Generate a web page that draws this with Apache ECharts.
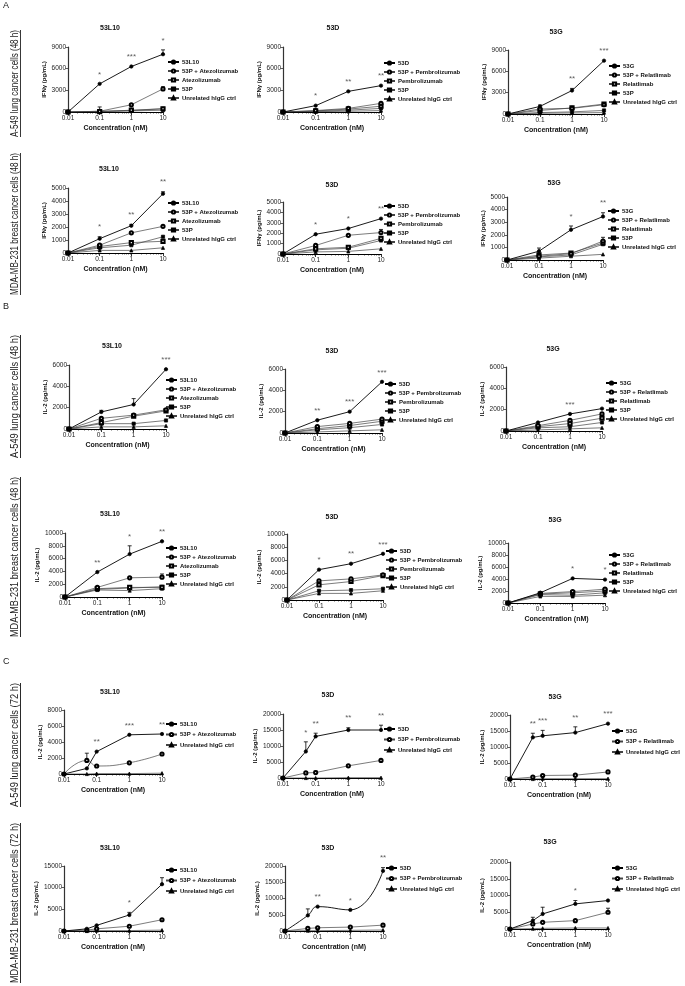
<!DOCTYPE html>
<html><head><meta charset="utf-8">
<script src="https://cdn.jsdelivr.net/npm/echarts@6/dist/echarts.min.js"></script>
<style>html,body{margin:0;padding:0;background:#fff}#c{width:685px;height:986px}</style>
</head><body><div id="c"></div>
<script>
// ---------- categories / names ----------
const conc = [0.01, 0.1, 1, 10];
const concC = [0.01, 0.05, 0.1, 1, 10];
const namesL10 = ['53L10', '53P + Atezolizumab', 'Atezolizumab', '53P', 'Unrelated hIgG ctrl'];
const namesD = ['53D', '53P + Pembrolizumab', 'Pembrolizumab', '53P', 'Unrelated hIgG ctrl'];
const namesG = ['53G', '53P + Relatlimab', 'Relatlimab', '53P', 'Unrelated hIgG ctrl'];
const namesL10c = ['53L10', '53P + Atezolizumab', 'Unrelated hIgG ctrl'];
const namesDc = ['53D', '53P + Pembrolizumab', 'Unrelated hIgG ctrl'];
const namesGc = ['53G', '53P + Relatlimab', 'Unrelated hIgG ctrl'];
const yNameIFN = 'IFN\u03b3 (pg/mL)';
const yNameIL2 = 'IL-2 (pg/mL)';
const xName = 'Concentration (nM)';
const sideA549_48 = 'A-549 lung cancer cells (48 h)';
const sideMDA_48 = 'MDA-MB-231 breast cancer cells (48 h)';
const sideA549_72 = 'A-549 lung cancer cells (72 h)';
const sideMDA_72 = 'MDA-MB-231 breast cancer cells (72 h)';

// ---------- A: IFN-gamma, A-549, 48 h ----------
const a1L10_main = [0, 3900, 6300, 8000];
const a1L10_combo = [0, 100, 1000, 3200];
const a1L10_mab = [0, 50, 250, 450];
const a1L10_53p = [0, 100, 200, 450];
const a1L10_ctrl = [0, 50, 150, 250];
const a1L10_mainErr = [0, 0, 0, 600];
const a1L10_comboErr = [0, 600, 0, 300];
const a1L10_sig = ['', '*', '***', '*'];

const a1D_main = [0, 880, 2860, 3650];
const a1D_combo = [0, 200, 500, 1200];
const a1D_mab = [0, 150, 400, 800];
const a1D_53p = [0, 100, 250, 500];
const a1D_ctrl = [0, 50, 100, 200];
const a1D_mainErr = [0, 0, 0, 0];
const a1D_comboErr = [0, 0, 0, 0];
const a1D_sig = ['', '*', '**', '**'];

const a1G_main = [0, 1070, 3300, 7500];
const a1G_combo = [0, 700, 800, 1300];
const a1G_mab = [0, 500, 850, 1400];
const a1G_53p = [0, 200, 300, 500];
const a1G_ctrl = [0, 100, 150, 200];
const a1G_mainErr = [0, 200, 300, 0];
const a1G_comboErr = [0, 0, 0, 0];
const a1G_sig = ['', '', '**', '***'];

// ---------- A: IFN-gamma, MDA-MB-231, 48 h ----------
const a2L10_main = [0, 1100, 2100, 4560];
const a2L10_combo = [0, 600, 1550, 2050];
const a2L10_mab = [0, 500, 800, 900];
const a2L10_53p = [0, 400, 600, 1250];
const a2L10_ctrl = [0, 200, 200, 400];
const a2L10_mainErr = [0, 150, 100, 150];
const a2L10_comboErr = [0, 0, 0, 0];
const a2L10_sig = ['', '*', '**', '**'];

const a2D_main = [0, 1900, 2450, 3400];
const a2D_combo = [0, 820, 1800, 2060];
const a2D_mab = [0, 500, 650, 1500];
const a2D_53p = [0, 400, 550, 1300];
const a2D_ctrl = [0, 200, 250, 500];
const a2D_mainErr = [0, 0, 0, 0];
const a2D_comboErr = [0, 0, 0, 300];
const a2D_sig = ['', '*', '*', '**'];

const a2G_main = [0, 700, 2400, 3450];
const a2G_combo = [0, 300, 500, 1500];
const a2G_mab = [0, 400, 550, 1350];
const a2G_53p = [0, 250, 400, 1250];
const a2G_ctrl = [0, 150, 300, 450];
const a2G_mainErr = [0, 250, 300, 300];
const a2G_comboErr = [0, 0, 0, 300];
const a2G_sig = ['', '', '*', '**'];

// ---------- B: IL-2, A-549, 48 h ----------
const b1L10_main = [0, 1600, 2300, 5600];
const b1L10_combo = [0, 1000, 1300, 1800];
const b1L10_mab = [0, 600, 1200, 1700];
const b1L10_53p = [0, 500, 500, 800];
const b1L10_ctrl = [0, 200, 200, 300];
const b1L10_mainErr = [0, 150, 550, 0];
const b1L10_comboErr = [0, 0, 0, 0];
const b1L10_sig = ['', '', '', '***'];

const b1D_main = [0, 1200, 2000, 4800];
const b1D_combo = [0, 600, 900, 1300];
const b1D_mab = [0, 400, 700, 1100];
const b1D_53p = [0, 300, 500, 800];
const b1D_ctrl = [0, 100, 200, 300];
const b1D_mainErr = [0, 0, 0, 0];
const b1D_comboErr = [0, 0, 0, 0];
const b1D_sig = ['', '**', '***', '***'];

const b1G_main = [0, 800, 1600, 2100];
const b1G_combo = [0, 500, 1000, 1600];
const b1G_mab = [0, 400, 700, 1200];
const b1G_53p = [0, 300, 400, 800];
const b1G_ctrl = [0, 100, 200, 300];
const b1G_mainErr = [0, 0, 0, 0];
const b1G_comboErr = [0, 0, 0, 0];
const b1G_sig = ['', '', '***', ''];

// ---------- B: IL-2, MDA-MB-231, 48 h ----------
const b2L10_main = [0, 3900, 6700, 8700];
const b2L10_combo = [0, 1500, 3000, 3100];
const b2L10_mab = [0, 1300, 1500, 1500];
const b2L10_53p = [0, 1200, 1400, 1600];
const b2L10_ctrl = [0, 1100, 1000, 1300];
const b2L10_mainErr = [0, 0, 1300, 0];
const b2L10_comboErr = [0, 0, 0, 500];
const b2L10_sig = ['', '**', '*', '**'];

const b2D_main = [0, 4600, 5500, 7000];
const b2D_combo = [0, 2900, 3200, 3800];
const b2D_mab = [0, 2300, 2800, 3700];
const b2D_53p = [0, 1400, 1500, 1700];
const b2D_ctrl = [0, 1000, 1000, 1400];
const b2D_mainErr = [0, 0, 0, 0];
const b2D_comboErr = [0, 0, 0, 0];
const b2D_sig = ['', '*', '**', '***'];

const b2G_main = [0, 1700, 4100, 3900];
const b2G_combo = [0, 1600, 1900, 2300];
const b2G_mab = [0, 1500, 1700, 2000];
const b2G_53p = [0, 1400, 1300, 1700];
const b2G_ctrl = [0, 1100, 1100, 1300];
const b2G_mainErr = [0, 0, 0, 0];
const b2G_comboErr = [0, 0, 0, 0];
const b2G_sig = ['', '', '*', '*'];

// ---------- C: IL-2, A-549, 72 h ----------
const c1L10_main = [0, 700, 2800, 4900, 5000];
const c1L10_combo = [0, 1700, 1000, 1400, 2500];
const c1L10_ctrl = [0, 0, 50, 50, 100];
const c1L10_mainErr = [0, 0, 0, 0, 0];
const c1L10_comboErr = [0, 900, 0, 0, 0];
const c1L10_sig = ['', '', '**', '***', '**'];

const c1D_main = [0, 8300, 13000, 15000, 15000];
const c1D_combo = [0, 1600, 1700, 3800, 5500];
const c1D_ctrl = [0, 0, 0, 100, 100];
const c1D_mainErr = [0, 3000, 1000, 700, 1500];
const c1D_comboErr = [0, 0, 500, 0, 0];
const c1D_sig = ['', '*', '**', '**', '**'];

const c1G_main = [0, 13000, 13500, 14500, 17300];
const c1G_combo = [0, 600, 1100, 1200, 2200];
const c1G_ctrl = [0, 0, 100, 100, 100];
const c1G_mainErr = [0, 1300, 1700, 1800, 0];
const c1G_comboErr = [0, 0, 0, 0, 0];
const c1G_sig = ['', '**', '***', '**', '***'];

// ---------- C: IL-2, MDA-MB-231, 72 h ----------
const c2L10_main = [0, 500, 1300, 3700, 10800];
const c2L10_combo = [0, 200, 500, 1100, 2600];
const c2L10_ctrl = [0, 0, 100, 100, 200];
const c2L10_mainErr = [0, 0, 0, 600, 1500];
const c2L10_comboErr = [0, 0, 0, 0, 0];
const c2L10_sig = ['', '', '', '*', ''];

const c2D_main = [0, 4800, 7500, 6500, 18500];
const c2D_combo = [0, 800, 1000, 1200, 1800];
const c2D_ctrl = [0, 100, 100, 200, 300];
const c2D_mainErr = [0, 2000, 0, 0, 1000];
const c2D_comboErr = [0, 0, 0, 0, 0];
const c2D_sig = ['', '', '**', '*', '**'];

const c2G_main = [0, 2500, 4500, 7500, 8500];
const c2G_combo = [0, 1500, 2000, 2500, 5000];
const c2G_ctrl = [0, 100, 200, 300, 300];
const c2G_mainErr = [0, 1000, 2000, 1000, 0];
const c2G_comboErr = [0, 0, 0, 0, 1200];
const c2G_sig = ['', '', '', '*', ''];

// ---------- panel definitions (data references) ----------
const panels = [
  {title:'53L10', names:namesL10, x:conc, ys:[a1L10_main,a1L10_combo,a1L10_mab,a1L10_53p,a1L10_ctrl], errs:[a1L10_mainErr,a1L10_comboErr], sig:a1L10_sig, ymax:9000, yint:3000, yname:yNameIFN},
  {title:'53D', names:namesD, x:conc, ys:[a1D_main,a1D_combo,a1D_mab,a1D_53p,a1D_ctrl], errs:[a1D_mainErr,a1D_comboErr], sig:a1D_sig, ymax:9000, yint:3000, yname:yNameIFN},
  {title:'53G', names:namesG, x:conc, ys:[a1G_main,a1G_combo,a1G_mab,a1G_53p,a1G_ctrl], errs:[a1G_mainErr,a1G_comboErr], sig:a1G_sig, ymax:9000, yint:3000, yname:yNameIFN},
  {title:'53L10', names:namesL10, x:conc, ys:[a2L10_main,a2L10_combo,a2L10_mab,a2L10_53p,a2L10_ctrl], errs:[a2L10_mainErr,a2L10_comboErr], sig:a2L10_sig, ymax:5000, yint:1000, yname:yNameIFN},
  {title:'53D', names:namesD, x:conc, ys:[a2D_main,a2D_combo,a2D_mab,a2D_53p,a2D_ctrl], errs:[a2D_mainErr,a2D_comboErr], sig:a2D_sig, ymax:5000, yint:1000, yname:yNameIFN},
  {title:'53G', names:namesG, x:conc, ys:[a2G_main,a2G_combo,a2G_mab,a2G_53p,a2G_ctrl], errs:[a2G_mainErr,a2G_comboErr], sig:a2G_sig, ymax:5000, yint:1000, yname:yNameIFN},
  {title:'53L10', names:namesL10, x:conc, ys:[b1L10_main,b1L10_combo,b1L10_mab,b1L10_53p,b1L10_ctrl], errs:[b1L10_mainErr,b1L10_comboErr], sig:b1L10_sig, ymax:6000, yint:2000, yname:yNameIL2},
  {title:'53D', names:namesD, x:conc, ys:[b1D_main,b1D_combo,b1D_mab,b1D_53p,b1D_ctrl], errs:[b1D_mainErr,b1D_comboErr], sig:b1D_sig, ymax:6000, yint:2000, yname:yNameIL2},
  {title:'53G', names:namesG, x:conc, ys:[b1G_main,b1G_combo,b1G_mab,b1G_53p,b1G_ctrl], errs:[b1G_mainErr,b1G_comboErr], sig:b1G_sig, ymax:6000, yint:2000, yname:yNameIL2},
  {title:'53L10', names:namesL10, x:conc, ys:[b2L10_main,b2L10_combo,b2L10_mab,b2L10_53p,b2L10_ctrl], errs:[b2L10_mainErr,b2L10_comboErr], sig:b2L10_sig, ymax:10000, yint:2000, yname:yNameIL2},
  {title:'53D', names:namesD, x:conc, ys:[b2D_main,b2D_combo,b2D_mab,b2D_53p,b2D_ctrl], errs:[b2D_mainErr,b2D_comboErr], sig:b2D_sig, ymax:10000, yint:2000, yname:yNameIL2},
  {title:'53G', names:namesG, x:conc, ys:[b2G_main,b2G_combo,b2G_mab,b2G_53p,b2G_ctrl], errs:[b2G_mainErr,b2G_comboErr], sig:b2G_sig, ymax:10000, yint:2000, yname:yNameIL2},
  {title:'53L10', names:namesL10c, x:concC, ys:[c1L10_main,c1L10_combo,c1L10_ctrl], errs:[c1L10_mainErr,c1L10_comboErr], sig:c1L10_sig, ymax:8000, yint:2000, yname:yNameIL2, smooth:[false,true,false]},
  {title:'53D', names:namesDc, x:concC, ys:[c1D_main,c1D_combo,c1D_ctrl], errs:[c1D_mainErr,c1D_comboErr], sig:c1D_sig, ymax:20000, yint:5000, yname:yNameIL2},
  {title:'53G', names:namesGc, x:concC, ys:[c1G_main,c1G_combo,c1G_ctrl], errs:[c1G_mainErr,c1G_comboErr], sig:c1G_sig, ymax:20000, yint:5000, yname:yNameIL2},
  {title:'53L10', names:namesL10c, x:concC, ys:[c2L10_main,c2L10_combo,c2L10_ctrl], errs:[c2L10_mainErr,c2L10_comboErr], sig:c2L10_sig, ymax:15000, yint:5000, yname:yNameIL2},
  {title:'53D', names:namesDc, x:concC, ys:[c2D_main,c2D_combo,c2D_ctrl], errs:[c2D_mainErr,c2D_comboErr], sig:c2D_sig, ymax:20000, yint:5000, yname:yNameIL2, smooth:[true,false,false]},
  {title:'53G', names:namesGc, x:concC, ys:[c2G_main,c2G_combo,c2G_ctrl], errs:[c2G_mainErr,c2G_comboErr], sig:c2G_sig, ymax:20000, yint:5000, yname:yNameIL2}
];

// ---------- layout (pixels): plot left, right, top, bottom; legend left/top; title centre ----------
const layout = [
  {l:68, r:163, t:47, b:112, lx:167, ly:59, tx:110, ty:28, gap:9},
  {l:283, r:381, t:47, b:112, lx:383, ly:60, tx:333, ty:28, gap:9},
  {l:508, r:604, t:50, b:114, lx:608, ly:63, tx:556, ty:32, gap:9},
  {l:68, r:163, t:188, b:253, lx:167, ly:200, tx:109, ty:169, gap:9},
  {l:283, r:381, t:202, b:254, lx:383, ly:203, tx:332, ty:185, gap:9},
  {l:507, r:603, t:197, b:260, lx:607, ly:208, tx:554, ty:183, gap:9},
  {l:69, r:166, t:365, b:429, lx:165, ly:377, tx:112, ty:346, gap:9},
  {l:285, r:382, t:369, b:433, lx:384, ly:381, tx:332, ty:351, gap:9},
  {l:506, r:602, t:367, b:431, lx:605, ly:380, tx:553, ty:349, gap:9},
  {l:65, r:162, t:533, b:597, lx:165, ly:545, tx:110, ty:514, gap:9},
  {l:287, r:383, t:534, b:600, lx:385, ly:548, tx:332, ty:517, gap:9},
  {l:508, r:605, t:543, b:603, lx:608, ly:552, tx:555, ty:520, gap:9},
  {l:64, r:162, t:710, b:774, lx:165, ly:721, tx:110, ty:692, gap:10.5},
  {l:283, r:381, t:714, b:778, lx:383, ly:726, tx:328, ty:695, gap:10.5},
  {l:510, r:608, t:715, b:779, lx:611, ly:728, tx:555, ty:697, gap:10.5},
  {l:64, r:162, t:866, b:931, lx:165, ly:867, tx:110, ty:848, gap:10.5},
  {l:285, r:383, t:866, b:931, lx:385, ly:865, tx:328, ty:848, gap:10.5},
  {l:510, r:608, t:862, b:929, lx:611, ly:865, tx:550, ty:842, gap:10.5}
];
const sideLabels = [
  {text:sideA549_48, y1:30, y2:137},
  {text:sideMDA_48, y1:153, y2:295},
  {text:sideA549_48, y1:335, y2:458},
  {text:sideMDA_48, y1:477, y2:637},
  {text:sideA549_72, y1:683, y2:807},
  {text:sideMDA_72, y1:823, y2:983}
];
const sections = [{t:'A', y:1}, {t:'B', y:302}, {t:'C', y:657}];

const sym5 = ['circle', 'emptyCircle', 'emptyRect', 'rect', 'triangle'];
const sym3 = ['circle', 'emptyCircle', 'triangle'];
const FONT = '"Liberation Sans", Arial, sans-serif';

const measureCtx = document.createElement('canvas').getContext('2d');
function textW(t, font){ measureCtx.font = font; return measureCtx.measureText(t).width; }
const fmtLog = v => String(+(+v).toPrecision(3));

const grids = [], xAxes = [], yAxes = [], series = [], legends = [], graphics = [];
panels.forEach((p, i) => {
  const L = layout[i];
  grids.push({left:L.l, top:L.t, width:L.r - L.l, height:L.b - L.t, containLabel:false});
  xAxes.push({type:'log', logBase:10, min:0.01, max:10, gridIndex:i,
    axisLine:{lineStyle:{color:'#000', width:1}},
    axisTick:{length:3, lineStyle:{color:'#000', width:0.8}},
    minorTick:{show:true, splitNumber:9, length:1.5, lineStyle:{color:'#000', width:0.6}},
    splitLine:{show:false},
    axisLabel:{fontSize:6.5, margin:3, color:'#222', fontFamily:FONT, formatter:fmtLog},
    name:xName, nameLocation:'middle', nameGap:13,
    nameTextStyle:{fontSize:7, fontWeight:'bold', color:'#111', fontFamily:FONT}});
  yAxes.push({type:'value', min:0, max:p.ymax, interval:p.yint, gridIndex:i,
    axisLine:{show:true, lineStyle:{color:'#333', width:1.2}},
    axisTick:{show:true, length:2.5, lineStyle:{color:'#333', width:0.8}},
    splitLine:{show:false},
    axisLabel:{fontSize:6.5, margin:2, color:'#222', fontFamily:FONT, formatter:v => String(v)},
    name:p.yname, nameLocation:'middle', nameGap:p.ymax >= 10000 ? 25 : 21,
    nameTextStyle:{fontSize:6, fontWeight:'bold', color:'#111', fontFamily:FONT}});
  const syms = p.names.length === 5 ? sym5 : sym3;
  p.names.forEach((nm, k) => {
    series.push({type:'line', name:nm, xAxisIndex:i, yAxisIndex:i,
      data:p.x.map((xv, j) => [xv, p.ys[k][j]]),
      symbol:syms[k], symbolSize:k === 0 ? 3.4 : 3.2, smooth:p.smooth ? p.smooth[k] : false,
      lineStyle:{color:k === 0 ? '#000' : '#444', width:k === 0 ? 0.9 : 0.7},
      itemStyle:{color:'#000', borderColor:'#000', borderWidth:0.7},
      z:10 - k, animation:false, silent:true});
  });
  // error bars (upper only, GraphPad style)
  const errData = [];
  p.errs.forEach((e, k) => e.forEach((ev, j) => { if (ev > 0) errData.push([p.x[j], p.ys[k][j], ev]); }));
  series.push({type:'custom', xAxisIndex:i, yAxisIndex:i, data:errData, clip:false, silent:true, z:5,
    renderItem:(params, api) => {
      const x = api.value(0), y = api.value(1), e = api.value(2);
      const p0 = api.coord([x, y]), p1 = api.coord([x, y + e]);
      return {type:'group', children:[
        {type:'line', shape:{x1:p0[0], y1:p0[1], x2:p1[0], y2:p1[1]}, style:{stroke:'#000', lineWidth:0.8}},
        {type:'line', shape:{x1:p1[0] - 2, y1:p1[1], x2:p1[0] + 2, y2:p1[1]}, style:{stroke:'#000', lineWidth:0.8}}]};
    }});
  // significance asterisks above the main series
  const sigData = [];
  p.sig.forEach((s, j) => { if (s) sigData.push([p.x[j], p.ys[0][j] + p.errs[0][j], s]); });
  series.push({type:'scatter', xAxisIndex:i, yAxisIndex:i, data:sigData, clip:false, silent:true,
    symbol:'circle', symbolSize:1, itemStyle:{color:'rgba(0,0,0,0)'}, z:20,
    label:{show:true, position:'top', distance:5, formatter:q => q.data[2], fontSize:8, color:'#333', fontFamily:FONT}});
  legends.push({data:p.names, orient:'vertical', left:L.lx, top:L.ly, itemWidth:11, itemHeight:4,
    itemGap:L.gap - 6, padding:0, selectedMode:false,
    textStyle:{fontSize:6, fontWeight:'bold', color:'#111', fontFamily:FONT, lineHeight:6, padding:[0,0,0,-2]}});
  graphics.push({type:'text', x:L.tx, y:L.ty, style:{text:p.title, font:'bold 7px ' + FONT, fill:'#111', textAlign:'center', textVerticalAlign:'middle'}});
});

sideLabels.forEach(s => {
  const font = '10px ' + FONT;
  const w = textW(s.text, font);
  const sc = (s.y2 - s.y1) / w;
  graphics.push({type:'group', x:15, y:(s.y1 + s.y2) / 2, rotation:Math.PI / 2, scaleX:sc, scaleY:1, children:[
    {type:'text', x:0, y:0, style:{text:s.text, font:font, fill:'#222', textAlign:'center', textVerticalAlign:'middle'}},
    {type:'line', shape:{x1:-w / 2, y1:5.5, x2:w / 2, y2:5.5}, style:{stroke:'#222', lineWidth:1}}]});
});
sections.forEach(s => graphics.push({type:'text', x:3, y:s.y, style:{text:s.t, font:'9px ' + FONT, fill:'#222'}}));

const chart = echarts.init(document.getElementById('c'), null, {renderer:'canvas'});
chart.setOption({backgroundColor:'#fff', animation:false, grid:grids, xAxis:xAxes, yAxis:yAxes,
  series:series, legend:legends, graphic:graphics});
</script></body></html>
